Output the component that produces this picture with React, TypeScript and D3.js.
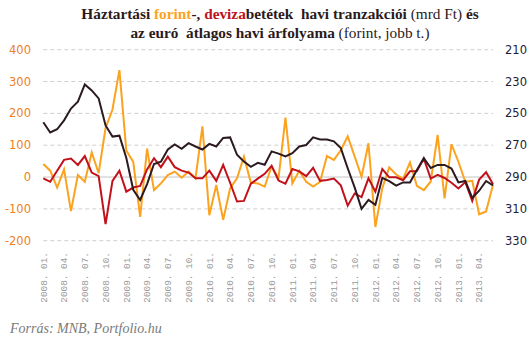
import React from 'react';
import * as d3 from 'd3';

// Monthly categories 2008.01 – 2013.06
const startYear = 2008;
const monthCount = 66;
const months: string[] = Array.from({ length: monthCount }, (_, i) => {
  const y = startYear + Math.floor(i / 12);
  const m = (i % 12) + 1;
  return `${y}. ${m < 10 ? '0' + m : m}.`;
});

const tickLabels = [
  '2008. 01.', '2008. 04.', '2008. 07.', '2008. 10.',
  '2009. 01.', '2009. 04.', '2009. 07.', '2009. 10.',
  '2010. 01.', '2010. 04.', '2010. 07.', '2010. 10.',
  '2011. 01.', '2011. 04.', '2011. 07.', '2011. 10.',
  '2012. 01.', '2012. 04.', '2012. 07.', '2012. 10.',
  '2013. 01.', '2013. 04.',
];

// Forint deposits, monthly transactions (bn HUF, left axis)
const forint = [
  41, 20, -33, 24, -107, 6, -15, 77, 12, 154,
  212, 336, 83, 48, -125, 89, -41, -20, 6, 17,
  -2, 17, -4, 159, -120, -25, -134, -36, -4, 64,
  -18, -20, -30, 33, -4, 187, -20, 20, -15, -30,
  -15, 66, 54, 84, 128, 65, 1, 106, -157, -35,
  30, 8, -6, 46, -28, -41, -14, 132, -67, 103,
  48, -15, -12, -117, -108, -24,
];

// FX deposits, monthly transactions (bn HUF, left axis)
const deviza = [
  -4, -15, 20, 54, 58, 38, 66, 14, 3, -148,
  -12, 20, -46, -33, -28, 24, 59, 31, 64, 31,
  20, 14, -4, -4, 20, -12, 38, -18, -77, -75,
  -21, -5, 10, 35, -11, -21, 25, 18, 3, 29,
  -12, -9, -5, -26, -90, -52, -63, -4, -46, 25,
  -1, -1, -10, 18, 19, 58, -5, 7, -3, -18,
  -36, -16, -75, -8, 15, -22,
];

// EUR/HUF monthly average (right axis, reversed)
const eurHuf = [
  255.6, 262, 260, 254.4, 247, 242.6, 231.8, 235.6, 240.6, 257.6,
  264.6, 264, 278, 298, 304.4, 294.4, 281.8, 280.4, 272.7, 269.5,
  272.3, 268.7, 270.8, 272.7, 269.2, 270.8, 265.4, 265.1, 276, 280.3,
  283.6, 281.1, 282.3, 273.9, 275.3, 277.1, 275, 270.8, 269.9, 265.1,
  266.4, 266.4, 267.6, 271.8, 284.5, 296.5, 310, 304.4, 307.5, 290.5,
  292.6, 295.4, 293.4, 293.4, 285.6, 278.1, 284.3, 282.4, 282.4, 284.7,
  293.4, 292.5, 303.1, 298.6, 292.5, 295.2,
];

const leftTicks = [400, 300, 200, 100, 0, -100, -200];
const rightTicks = [210, 230, 250, 270, 290, 310, 330];

const W = 531;
const H = 342;
const xL = 43.3;
const xR = 493;
const yTop = 49.7;
const yBot = 240.7;

const colForint = '#FBA31E';
const colDeviza = '#C1121C';
const colEur = '#2B1A20';

export default function App() {
  const x = d3.scalePoint<string>().domain(months).range([xL, xR]);
  const yLeft = d3.scaleLinear().domain([-200, 400]).range([yBot, yTop]);
  const yRight = d3.scaleLinear().domain([330, 210]).range([yBot, yTop]);

  const lineLeft = d3
    .line<number>()
    .x((_, i) => x(months[i]) as number)
    .y((d) => yLeft(d));
  const lineRight = d3
    .line<number>()
    .x((_, i) => x(months[i]) as number)
    .y((d) => yRight(d));

  const serif = '"Liberation Serif", "DejaVu Serif", serif';

  return (
    <svg width={W} height={H} style={{ position: 'absolute', left: 0, top: 0, background: '#fff' }}>
      <rect x={0} y={0} width={W} height={H} fill="#fff" />
      {/* Title */}
      <text x={280} y={19} textAnchor="middle" fontFamily={serif} fontSize={15.3} fill="#2a1a1a" style={{ whiteSpace: 'pre' }}>
        <tspan fontWeight="bold">Háztartási </tspan>
        <tspan fontWeight="bold" fill={colForint}>forint</tspan>
        <tspan fontWeight="bold">-, </tspan>
        <tspan fontWeight="bold" fill={colDeviza}>deviza</tspan>
        <tspan fontWeight="bold">betétek  havi tranzakciói</tspan>
        <tspan> (mrd Ft) </tspan>
        <tspan fontWeight="bold">és</tspan>
      </text>
      <text x={280} y={37.5} textAnchor="middle" fontFamily={serif} fontSize={15.3} fill="#2a1a1a" style={{ whiteSpace: 'pre' }}>
        <tspan fontWeight="bold">az euró  átlagos havi árfolyama</tspan>
        <tspan> (forint, jobb t.)</tspan>
      </text>

      {/* Grid */}
      {leftTicks.map((t) => (
        <line
          key={'g' + t}
          x1={xL}
          x2={xR}
          y1={yLeft(t)}
          y2={yLeft(t)}
          stroke={t === 0 ? '#c4c4c4' : '#cfcfcf'}
          strokeWidth={1}
          strokeDasharray={t === 0 ? undefined : '4,3'}
        />
      ))}

      {/* Left axis labels */}
      {leftTicks.map((t) => (
        <text
          key={'l' + t}
          x={31}
          y={yLeft(t)}
          dy="0.35em"
          textAnchor="end"
          fontFamily='"DejaVu Sans", sans-serif'
          fontSize={11.5}
          fill="#EE7F1C"
        >
          {t}
        </text>
      ))}

      {/* Right axis labels */}
      {rightTicks.map((t) => (
        <text
          key={'r' + t}
          x={505}
          y={yRight(t)}
          dy="0.35em"
          textAnchor="start"
          fontFamily='"DejaVu Sans", sans-serif'
          fontSize={11.5}
          fill="#1d1d35"
        >
          {t}
        </text>
      ))}

      {/* X labels */}
      {tickLabels.map((lab) => {
        const px = x(lab) as number;
        return (
          <text
            key={lab}
            transform={`translate(${px},252) rotate(-90)`}
            dy="0.35em"
            textAnchor="end"
            fontFamily='"Liberation Mono", monospace'
            fontSize={9.4}
            fill="#9a9a9a"
            style={{ whiteSpace: 'pre' }}
          >
            {lab}
          </text>
        );
      })}

      {/* Series */}
      <path d={lineLeft(forint) || ''} fill="none" stroke={colForint} strokeWidth={2} strokeLinejoin="miter" />
      <path d={lineLeft(deviza) || ''} fill="none" stroke={colDeviza} strokeWidth={2} strokeLinejoin="miter" />
      <path d={lineRight(eurHuf) || ''} fill="none" stroke={colEur} strokeWidth={2} strokeLinejoin="miter" />

      {/* Source */}
      <text x={10} y={333} fontFamily={serif} fontStyle="italic" fontSize={14} fill="#7a7a7a">
        Forrás: MNB, Portfolio.hu
      </text>
    </svg>
  );
}
